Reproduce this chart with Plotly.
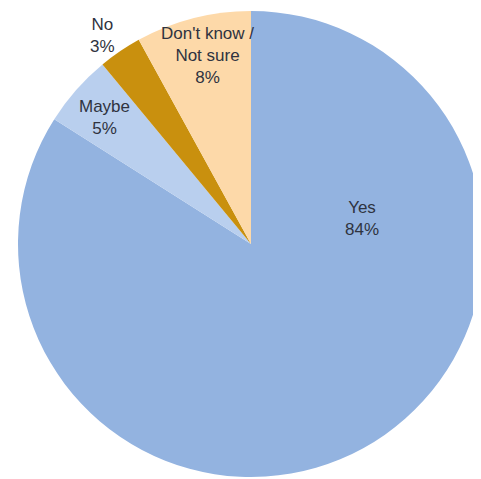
import plotly.graph_objects as go

# Data
labels = ["Yes", "Maybe", "No", "Don't know / Not sure"]
label_text = ["Yes", "Maybe", "No", "Don't know /<br>Not sure"]
values = [84, 5, 3, 8]
colors = ["#93B3E0", "#B9CFEE", "#C9900E", "#FDD9A9"]

# label centres in page pixels (layout)
label_px = [(362, 218), (104, 118), (102, 35), (207, 56)]

BODY = 8  # default page body margin
W, H = 481, 479
ML, MR, MT, MB = 10, 5, 3, 10
pw, ph = W - ML - MR, H - MT - MB

fig = go.Figure(go.Pie(
    labels=labels,
    values=values,
    sort=False,
    direction="clockwise",
    rotation=0,
    marker=dict(colors=colors, line=dict(width=0)),
    textinfo="none",
    hoverinfo="skip",
    showlegend=False,
    domain=dict(x=[0, 1], y=[0, 1]),
))

anns = []
for t, v, (px, py) in zip(label_text, values, label_px):
    fx, fy = px - BODY, py - BODY
    anns.append(dict(
        text=f"{t}<br>{v}%",
        x=(fx - ML) / pw, y=1 - (fy - MT) / ph,
        xref="paper", yref="paper",
        xanchor="center", yanchor="middle",
        showarrow=False, align="center",
        font=dict(family="Liberation Sans, Arial, sans-serif", size=17, color="#2f3340"),
    ))

fig.update_layout(
    width=W, height=H,
    margin=dict(l=ML, r=MR, t=MT, b=MB),
    paper_bgcolor="white", plot_bgcolor="white",
    annotations=anns,
)
fig.write_html("out.html")
